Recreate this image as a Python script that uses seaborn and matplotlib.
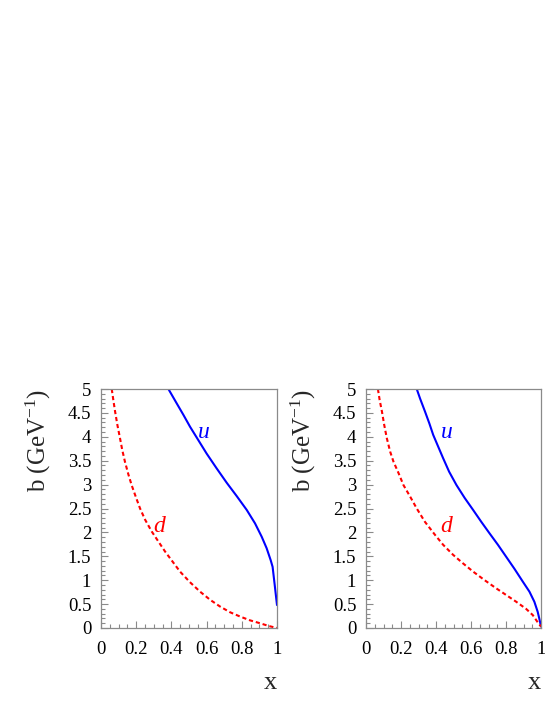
import matplotlib
matplotlib.use("Agg")
import matplotlib.pyplot as plt
import pandas as pd
import seaborn as sns
from matplotlib.ticker import MultipleLocator, FormatStrFormatter

# left panel curves
left_u_x = [0.383, 0.430, 0.468, 0.506, 0.553, 0.600, 0.657, 0.714, 0.771, 0.828,
            0.875, 0.913, 0.941, 0.964, 0.975, 0.987, 1.0]
left_u_y = [5.0, 4.70, 4.46, 4.21, 3.93, 3.65, 3.34, 3.04, 2.76, 2.47,
            2.19, 1.91, 1.67, 1.42, 1.28, 0.90, 0.48]
left_d_x = [0.061, 0.070, 0.080, 0.093, 0.108, 0.121, 0.136, 0.155, 0.174, 0.198, 0.222,
            0.250, 0.288, 0.335, 0.364, 0.449, 0.505, 0.563, 0.620, 0.676, 0.733,
            0.790, 0.847, 0.903, 0.955, 1.0]
left_d_y = [5.0, 4.77, 4.53, 4.25, 3.97, 3.72, 3.48, 3.22, 2.99, 2.74, 2.50,
            2.27, 2.02, 1.76, 1.60, 1.18, 0.96, 0.76, 0.59, 0.45, 0.33,
            0.24, 0.16, 0.10, 0.04, 0.0]

# right panel curves
right_u_x = [0.290, 0.309, 0.337, 0.362, 0.384, 0.413, 0.441, 0.475, 0.517, 0.564,
             0.612, 0.659, 0.706, 0.754, 0.801, 0.848, 0.896, 0.934, 0.962, 0.981,
             0.992, 1.0]
right_u_y = [5.0, 4.80, 4.53, 4.28, 4.04, 3.79, 3.55, 3.27, 2.99, 2.72,
             2.47, 2.22, 1.98, 1.74, 1.49, 1.24, 0.97, 0.76, 0.55, 0.34,
             0.17, 0.03]
right_d_x = [0.068, 0.078, 0.091, 0.104, 0.119, 0.138, 0.157, 0.186, 0.214, 0.252,
             0.290, 0.337, 0.394, 0.441, 0.498, 0.555, 0.612, 0.678, 0.744, 0.801,
             0.858, 0.915, 0.953, 0.981, 1.0]
right_d_y = [5.0, 4.77, 4.53, 4.25, 3.97, 3.69, 3.48, 3.24, 2.99, 2.75,
             2.50, 2.22, 1.95, 1.74, 1.53, 1.35, 1.18, 1.00, 0.83, 0.69,
             0.55, 0.40, 0.27, 0.12, 0.03]

flavours = ["u", "d"]
label_pos = {
    "left": {"u": (0.585, 4.1), "d": (0.33, 2.12)},
    "right": {"u": (0.46, 4.1), "d": (0.456, 2.12)},
}

sns.set_theme(style="ticks")
plt.rcParams["font.family"] = ["Liberation Serif", "DejaVu Serif"]
plt.rcParams["mathtext.fontset"] = "custom"
plt.rcParams["mathtext.rm"] = "Liberation Serif"
plt.rcParams["mathtext.it"] = "Liberation Serif:italic"

palette = {"u": "#0000ff", "d": "#ff0000"}
dashes = {"u": "", "d": (2, 1.4)}
axis_grey = "#8a8a8a"


def make_frame(ux, uy, dx, dy):
    return pd.concat([
        pd.DataFrame({"x": ux, "b": uy, "quark": "u"}),
        pd.DataFrame({"x": dx, "b": dy, "quark": "d"}),
    ], ignore_index=True)


frames = {
    "left": make_frame(left_u_x, left_u_y, left_d_x, left_d_y),
    "right": make_frame(right_u_x, right_u_y, right_d_x, right_d_y),
}

fig = plt.figure(figsize=(5.45, 7.05), dpi=100)
ax_left = fig.add_axes([101 / 545, 77 / 705, 176 / 545, 239 / 705])
ax_right = fig.add_axes([366 / 545, 77 / 705, 175 / 545, 239 / 705])

for name, ax in (("left", ax_left), ("right", ax_right)):
    df = frames[name]
    sns.lineplot(data=df, x="x", y="b", hue="quark", style="quark", hue_order=flavours,
                 style_order=flavours, palette=palette, dashes=dashes, sort=False,
                 estimator=None, linewidth=1.5, legend=False, ax=ax)
    ax.set_xlim(0, 1)
    ax.set_ylim(0, 5)
    ax.xaxis.set_major_locator(MultipleLocator(0.2))
    ax.xaxis.set_minor_locator(MultipleLocator(0.05))
    ax.yaxis.set_major_locator(MultipleLocator(0.5))
    ax.yaxis.set_minor_locator(MultipleLocator(0.1))
    ax.xaxis.set_major_formatter(FormatStrFormatter("%g"))
    ax.yaxis.set_major_formatter(FormatStrFormatter("%g"))
    ax.tick_params(which="both", direction="in", colors=axis_grey, labelcolor="black",
                   labelsize=13.5, width=0.8)
    ax.tick_params(which="major", length=5)
    ax.tick_params(which="minor", length=3)
    ax.tick_params(axis="x", pad=9)
    ax.tick_params(axis="y", pad=7)
    for spine in ax.spines.values():
        spine.set_visible(True)
        spine.set_color(axis_grey)
        spine.set_linewidth(0.9)

    ax.set_ylabel(r"b (GeV$^{\mathregular{-1}}$)", fontsize=18, loc="top")
    ax.yaxis.set_label_coords(-0.275, 1.0)
    ax.set_xlabel("x", fontsize=19, loc="right")
    ax.xaxis.set_label_coords(1.0, -0.185)

    for q in flavours:
        tx, ty = label_pos[name][q]
        ax.text(tx, ty, q, color=palette[q], fontsize=17, style="italic",
                ha="center", va="center")

fig.savefig("out.png", dpi=100)
